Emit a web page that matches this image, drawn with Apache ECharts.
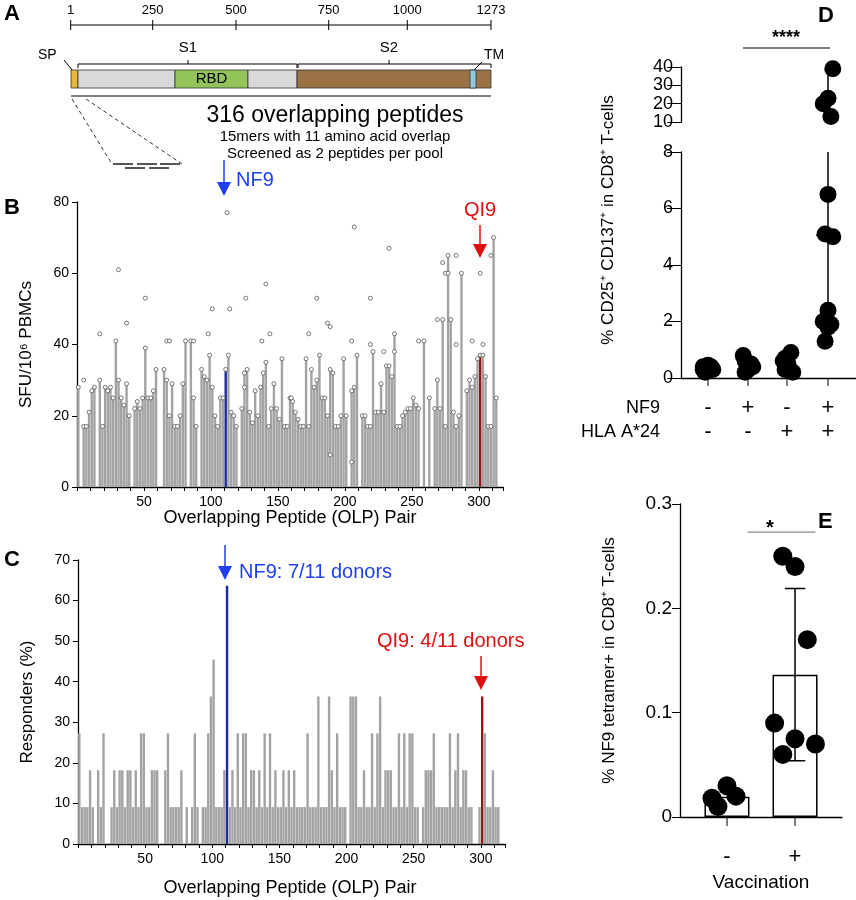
<!DOCTYPE html>
<html><head><meta charset="utf-8">
<script src="https://cdn.jsdelivr.net/npm/echarts@6/dist/echarts.min.js"></script>
<style>html,body{margin:0;padding:0;background:#fff}#c{width:856px;height:900px}</style>
</head><body><div id="c"></div>
<script>
// ---- Panel B: SFU per 10^6 PBMCs, one bar per OLP pair (x = 1,3,5,...)
const sfuMeans = [28,0,17,17,21,27,28,0,30,17, 28,27,28,25,41,30,25,23,29,20,
 0,22,24,22,25,39,25,25,27,33, 0,0,33,30,20,29,17,17,20,29,
 41,0,41,25,17,0,33,31,30,37, 28,20,17,25,25,33,37,21,20,17,
 0,22,32,33,21,18,27,20,28,32, 35,17,22,29,22,19,36,17,17,25,
 24,21,19,17,17,36,17,33,28,30, 37,25,25,20,33,32,17,17,20,36,
 20,0,27,28,37,0,20,20,17,17, 38,21,21,29,21,34,34,31,43,17,
 17,20,21,22,22,25,23,22,0,41, 0,25,0,22,30,22,47,17,65,47,
 21,17,20,60,0,27,30,28,31,36, 37,37,31,17,17,70,25,0];
const sfuDonorDots = [[31,61],[51,53],[37,46],[112,77],[101,50],[114,50],[141,57],[126,53],[179,53],
 [187,46],[189,45],[207,73],[219,53],[233,67],[205,41],[283,65],[301,60],[309,65],[275,60],[277,60],
 [273,63],[17,43],[98,43],[144,43],[173,43],[138,41],[255,41],[269,47],[283,40],[303,40],[295,41],
 [219,40],[229,38],[67,41],[69,41],[87,41],[189,9],[205,7],[237,38],[5,30],[125,28],[160,25]];
// ---- Panel C: responders (number of donors out of 11)
const responders = [3,1,1,1,2,1,0,2,1,3, 0,0,1,2,1,2,2,1,2,2, 1,2,1,3,3,1,1,2,2,2,
 0,0,2,3,1,1,1,1,2,0, 1,0,1,3,1,0,1,1,3,4, 5,1,1,1,2,7,1,2,1,3,
 1,3,3,1,2,2,1,2,1,3, 1,3,1,2,1,1,2,1,2,1, 2,1,1,1,1,3,1,1,1,4,
 1,1,1,4,2,1,3,1,1,1, 0,4,4,4,1,1,2,1,1,3, 1,3,4,1,2,2,2,1,1,3,
 1,3,1,3,3,1,1,0,1,2, 2,2,3,1,1,1,1,1,3,1, 2,3,1,2,2,1,1,0,0,1,
 4,3,1,1,2,1,1,0];
const donors = 11;
const nf9Index = 55, qi9Index = 150;
// ---- Panel D
const dCond1 = [0.25,0.3,0.35,0.4,0.45,0.3,0.2,0.35,0.4,0.3];
const dCond2 = [0.2,0.3,0.5,0.8,0.3,0.4,0.6];
const dCond3 = [0.3,0.5,0.9,0.6,0.4,0.2,0.7];
const dCond4 = [1.3,1.8,1.9,2.0,2.4,5.0,5.1,6.5,13,20,23,39];
const dMedian4 = 5.05;
const nf9Signs = ['-','+','-','+'];
const hlaSigns = ['-','-','+','+'];
// ---- Panel E
const eNeg = [0.01,0.03,0.02,0.018];
const ePos = [0.25,0.24,0.17,0.09,0.075,0.07,0.06];
const eLabels = ['-','+'];

const F = 'Liberation Sans, Arial, sans-serif';
const mean = a => a.reduce((s,v)=>s+v,0)/a.length;
const sd = a => {const m=mean(a);return Math.sqrt(a.reduce((s,v)=>s+(v-m)*(v-m),0)/(a.length-1));};
const xOf = i => 2*i+1;

const barB = sfuMeans.map((v,i)=>({value:[xOf(i),v],itemStyle:{color: i===nf9Index?'#1a2aa0': i===qi9Index?'#9b1010':'#a3a3a3'}}));
const dotsB = sfuMeans.map((v,i)=>[xOf(i),v]).filter(d=>d[1]>0).concat(sfuDonorDots);
const barC = responders.map((v,i)=>({value:[xOf(i),v/donors*100],itemStyle:{color: i===nf9Index?'#1a2aa0': i===qi9Index?'#9b1010':'#a3a3a3'}}));

const jit = (arr,x,w)=>arr.map((v,i)=>[x+((i%3)-1)*w*(i%2?1:0.6),v]);
const dAll = [dCond1,dCond2,dCond3,dCond4];
let dLow=[], dHigh=[];
dAll.forEach((arr,g)=>jit(arr,g+1,0.12).forEach(p=>{(p[1]<=8?dLow:dHigh).push(p);}));
const eM=[mean(eNeg),mean(ePos)], eS=[sd(eNeg),sd(ePos)];

const axisCommon = {axisLine:{show:true,lineStyle:{color:'#000',width:1.3}},axisTick:{show:true,lineStyle:{color:'#000'}},splitLine:{show:false}};
const chart = echarts.init(document.getElementById('c'));
const grey = '#a3a3a3';
const opt = {
 animation:false,
 grid:[
  {left:77,top:202,width:426,height:285},      //B
  {left:78,top:560,width:427,height:284},      //C
  {left:681,top:152,width:175,height:226},     //D low
  {left:681,top:67,width:175,height:55},       //D high
  {left:680,top:504,width:162,height:313}      //E
 ],
 xAxis:[
  Object.assign({},axisCommon,{gridIndex:0,type:'value',min:0,max:318,interval:10,axisLabel:{fontFamily:F,fontSize:14,color:'#000',formatter:v=>v%50===0&&v>0?v:''},axisTick:{length:4,lineStyle:{color:'#000'}}}),
  Object.assign({},axisCommon,{gridIndex:1,type:'value',min:0,max:318,interval:10,axisLabel:{fontFamily:F,fontSize:14,color:'#000',formatter:v=>v%50===0&&v>0?v:''},axisTick:{length:4,lineStyle:{color:'#000'}}}),
  Object.assign({},axisCommon,{gridIndex:2,type:'value',min:0.325,max:4.7,interval:1,axisTick:{show:false},axisLabel:{show:false}}),
  {gridIndex:3,type:'value',min:0.325,max:4.7,show:false},
  Object.assign({},axisCommon,{gridIndex:4,type:'value',min:0.31,max:2.69,axisTick:{show:false},axisLabel:{show:false}})
 ],
 yAxis:[
  Object.assign({},axisCommon,{gridIndex:0,type:'value',min:0,max:80,interval:20,axisLabel:{fontFamily:F,fontSize:14,color:'#000'},name:'SFU/10⁶ PBMCs',nameLocation:'middle',nameGap:42,nameTextStyle:{fontFamily:F,fontSize:17,color:'#000'}}),
  Object.assign({},axisCommon,{gridIndex:1,type:'value',min:0,max:70,interval:10,axisLabel:{fontFamily:F,fontSize:14,color:'#000'},name:'Responders (%)',nameLocation:'middle',nameGap:42,nameTextStyle:{fontFamily:F,fontSize:17,color:'#000'}}),
  Object.assign({},axisCommon,{gridIndex:2,type:'value',min:0,max:8,interval:2,axisTick:{length:14},axisLabel:{fontFamily:F,fontSize:18,color:'#000'}}),
  Object.assign({},axisCommon,{gridIndex:3,type:'value',min:10,max:40,interval:10,axisTick:{length:14},axisLabel:{fontFamily:F,fontSize:18,color:'#000',lineHeight:16}}),
  Object.assign({},axisCommon,{gridIndex:4,type:'value',min:0,max:0.3,interval:0.1,axisTick:{length:8},axisLabel:{fontFamily:F,fontSize:19,color:'#000',formatter:v=>v===0?'0':v.toFixed(1)},name:'% NF9 tetramer+ in CD8⁺ T-cells',nameLocation:'middle',nameGap:62,nameTextStyle:{fontFamily:F,fontSize:17,color:'#000'}})
 ],
 series:[
  {type:'bar',xAxisIndex:0,yAxisIndex:0,data:barB,barWidth:2.4,itemStyle:{color:grey}},
  {type:'scatter',xAxisIndex:0,yAxisIndex:0,data:dotsB,symbolSize:4,itemStyle:{color:'#fff',borderColor:'#555',borderWidth:0.8,opacity:1},z:5},
  {type:'bar',xAxisIndex:1,yAxisIndex:1,data:barC,barWidth:2.4,itemStyle:{color:grey}},
  {type:'line',xAxisIndex:2,yAxisIndex:2,data:[[4,Math.min(...dCond4)],[4,8]],symbol:'none',lineStyle:{color:'#000',width:1.5}},
  {type:'line',xAxisIndex:2,yAxisIndex:2,data:[[3.7,dMedian4],[4.3,dMedian4]],symbol:'none',lineStyle:{color:'#000',width:1.5}},
  {type:'line',xAxisIndex:3,yAxisIndex:3,data:[[4,13],[4,Math.max(...dCond4)]],symbol:'none',lineStyle:{color:'#000',width:1.5}},
  {type:'scatter',xAxisIndex:2,yAxisIndex:2,data:dLow,symbolSize:17,itemStyle:{color:'#000',opacity:1}},
  {type:'scatter',xAxisIndex:3,yAxisIndex:3,data:dHigh,symbolSize:17,itemStyle:{color:'#000',opacity:1}},
  {type:'bar',xAxisIndex:4,yAxisIndex:4,data:[[1,eM[0]],[2,eM[1]]],barWidth:45,itemStyle:{color:'#fff',borderColor:'#000',borderWidth:1.5}},
  {type:'line',xAxisIndex:4,yAxisIndex:4,data:[[2,eM[1]-eS[1]],[2,eM[1]+eS[1]]],symbol:'none',lineStyle:{color:'#000',width:1.5}},
  {type:'line',xAxisIndex:4,yAxisIndex:4,data:[[1.85,eM[1]+eS[1]],[2.15,eM[1]+eS[1]]],symbol:'none',lineStyle:{color:'#000',width:1.5}},
  {type:'line',xAxisIndex:4,yAxisIndex:4,data:[[1.85,eM[1]-eS[1]],[2.15,eM[1]-eS[1]]],symbol:'none',lineStyle:{color:'#000',width:1.5}},
  {type:'line',xAxisIndex:4,yAxisIndex:4,data:[[1.3,0.273],[2.3,0.273]],symbol:'none',lineStyle:{color:'#888',width:1.2}},
  {type:'scatter',xAxisIndex:4,yAxisIndex:4,data:jit(eNeg,1,0.22).concat(jit(ePos,2,0.3)),symbolSize:19,itemStyle:{color:'#000',opacity:1},z:5}
 ],
 graphic:[]
};
const G = opt.graphic;
const T = (x,y,t,s,o)=>G.push(Object.assign({type:'text',x,y,style:Object.assign({text:t,font:(o&&o.bold?'bold ':'')+s+'px '+F,fill:(o&&o.fill)||'#000',textAlign:(o&&o.align)||'left',textVerticalAlign:'middle'},o&&o.style)},o&&o.extra));
const L = (x1,y1,x2,y2,c,w,dash)=>G.push({type:'line',shape:{x1,y1,x2,y2},style:{stroke:c||'#000',lineWidth:w||1,lineDash:dash||null}});
const R = (x,y,w,h,f)=>G.push({type:'rect',shape:{x,y,width:w,height:h},style:{fill:f,stroke:'#333',lineWidth:0.8}});
const Arrow=(x,y1,y2,c)=>{L(x,y1,x,y2-10,c,1.5);G.push({type:'polygon',shape:{points:[[x-7,y2-14],[x+7,y2-14],[x,y2]]},style:{fill:c}});};
// panel letters
T(4,14,'A',22,{bold:true});T(4,208,'B',22,{bold:true});T(4,560,'C',22,{bold:true});
T(818,16,'D',22,{bold:true});T(818,522,'E',22,{bold:true});
// panel A ruler
L(70.7,25,491,25);
[[70.7,'1'],[152.7,'250'],[236,'500'],[328.7,'750'],[407.3,'1000'],[491,'1273']].forEach(([x,t])=>{L(x,20,x,30);T(x,10,t,13,{align:'center'});});
R(71,70,7,18,'#e8b83a');R(78,70,97,18,'#d9d9d9');R(175,70,73,18,'#92c45a');R(248,70,49,18,'#d9d9d9');R(297,70,194,18,'#9a7245');R(470,70,6,18,'#8ec9e6');
T(211.5,79,'RBD',15,{align:'center'});
L(78,64,297,64);L(78,64,78,68);L(297,64,297,68);L(188,60,188,64);T(188,48,'S1',15,{align:'center'});
L(298,64,491,64);L(298,64,298,68);L(491,64,491,68);L(389,60,389,64);T(389,48,'S2',15,{align:'center'});
T(38,55,'SP',14);L(64,60,72,70);T(484,55,'TM',14);L(482,62,474,70);
L(71,96,491,96,'#000',1.2);
L(72,99,112,164,'#333',1,[4,3]);L(86,99,182,164,'#333',1,[4,3]);
L(113,164,133,164,'#555',2);L(137,164,157,164,'#555',2);L(160,164,180,164,'#555',2);
L(125,168,145,168,'#555',2);L(149,168,169,168,'#555',2);
T(335,116,'316 overlapping peptides',23,{align:'center'});
T(335,137,'15mers with 11 amino acid overlap',15,{align:'center'});
T(335,154,'Screened as 2 peptides per pool',15,{align:'center'});
// panel B annotations
Arrow(224,160,196,'#1f3ff0');T(236,180,'NF9',20,{fill:'#1f3ff0'});
T(464,210,'QI9',20,{fill:'#e01010'});Arrow(480,225,258,'#e01010');
T(290,518,'Overlapping Peptide (OLP) Pair',18,{align:'center'});
// panel C annotations
Arrow(225,545,580,'#1f3ff0');T(239,572,'NF9: 7/11 donors',20,{fill:'#1f3ff0'});
T(377,641,'QI9: 4/11 donors',20,{fill:'#e01010'});Arrow(481,656,690,'#e01010');
T(290,888,'Overlapping Peptide (OLP) Pair',18,{align:'center'});
// panel D annotations
L(743,48,830,48,'#000',1);T(786,38,'****',18,{align:'center',bold:true});
T(608,220,'% CD25⁺ CD137⁺ in CD8⁺ T-cells',17,{align:'center',extra:{rotation:Math.PI/2}});
T(660,408,'NF9',18,{align:'right'});T(660,432,'HLA A*24',18,{align:'right'});
[708,748,787,828].forEach((x,i)=>{L(x,378,x,386);T(x,408,nf9Signs[i],22,{align:'center'});T(x,432,hlaSigns[i],22,{align:'center'});});
// panel E annotations
T(770,528,'*',20,{align:'center',bold:true});
[727,795].forEach((x,i)=>{L(x,817,x,826);T(x,857,eLabels[i],22,{align:'center'});});
T(761,883,'Vaccination',19,{align:'center'});
chart.setOption(opt);
</script></body></html>
